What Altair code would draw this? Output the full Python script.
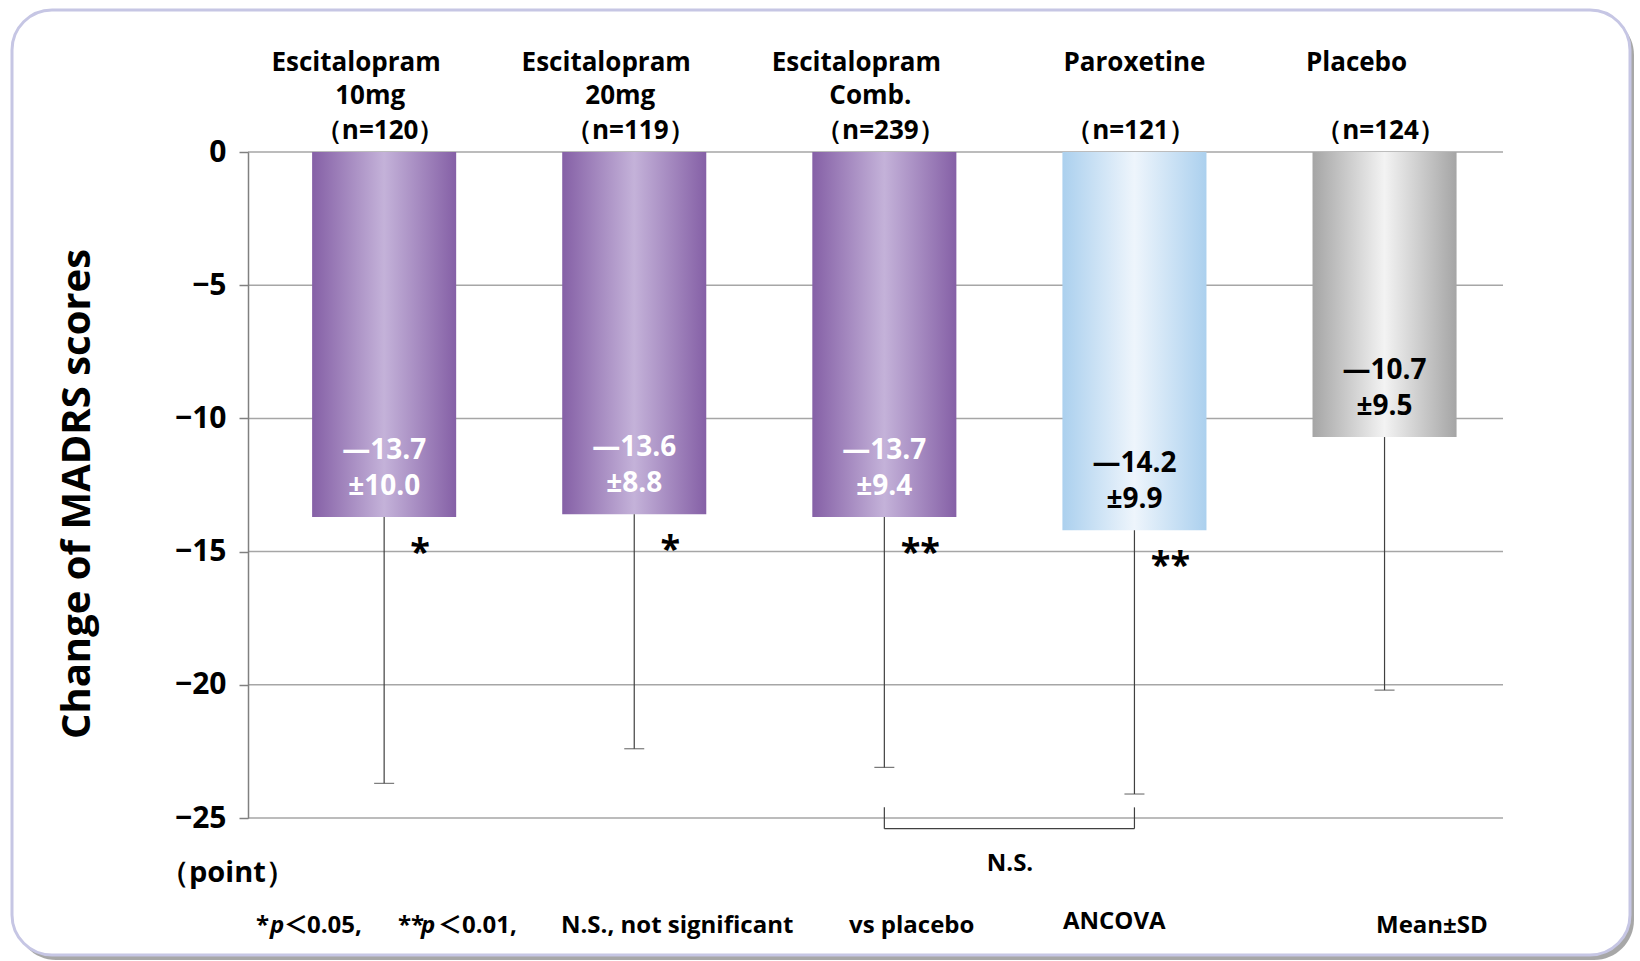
import altair as alt
import pandas as pd

# ---------------- data ----------------
categories = ["Escitalopram 10mg", "Escitalopram 20mg", "Escitalopram Comb.", "Paroxetine", "Placebo"]
label_name = ["Escitalopram", "Escitalopram", "Escitalopram", "Paroxetine", "Placebo"]
label_dose = ["10mg", "20mg", "Comb.", "", ""]
label_n = ["（n=120）", "（n=119）", "（n=239）", "（n=121）", "（n=124）"]
means = [-13.7, -13.6, -13.7, -14.2, -10.7]
sds = [10.0, 8.8, 9.4, 9.9, 9.5]
groups = ["esc", "esc", "esc", "par", "pla"]
stars = ["*", "*", "**", "**", ""]
y_ticks = [0, -5, -10, -15, -20, -25]
bracket_pair = ["Escitalopram Comb.", "Paroxetine"]
bracket_y = [-24.6, -25.4]
y_title = "Change of MADRS scores"
unit_text = "（point）"
ns_text = "N.S."
footer_texts = ["*", "p", "＜", "0.05,", "**", "p", "＜", "0.01,", "N.S., not significant", "vs placebo", "ANCOVA", "Mean±SD"]
footer_style = ["n", "i", "cjk", "n", "n", "i", "cjk", "n", "n", "n", "n", "n"]

# ---------------- layout constants ----------------
FONT = "Open Sans"
CJK = "Noto Sans CJK JP"
PAD_L, PAD_T, W, H = 248, 152, 1255, 666
PAD_R, PAD_B = 1640 - PAD_L - W, 961 - PAD_T - H
footer_x = [256, 270, 296, 307, 398, 421, 450, 462, 561, 849, 1063, 1376]
footer_y = [926, 926, 926, 926, 926, 926, 926, 926, 926, 926, 922, 926]

df = pd.DataFrame({
    "cat": categories,
    "mean": means,
    "low": [m - s for m, s in zip(means, sds)],
    "grp": groups,
    "star": stars,
    "name": label_name,
    "dose": label_dose,
    "n": label_n,
    "val": [[f"—{abs(m):.1f}", f"±{s:.1f}"] for m, s in zip(means, sds)],
})

xscale = alt.Scale(domain=categories, paddingInner=0.424, paddingOuter=0.221, align=0.58)
yscale = alt.Scale(domain=[-25, 0], nice=False)
X = alt.X("cat:N", scale=xscale, axis=None, sort=categories)

axis = alt.Axis(values=y_ticks, labelFont=FONT, labelFontSize=30, labelFontWeight="bold",
                labelColor="black", tickSize=9, tickColor="#808080", tickWidth=1.5,
                domainColor="#808080", domainWidth=1.5, grid=False, zindex=1,
                labelPadding=13, title=None)


def Y(field):
    return alt.Y(field, scale=yscale, axis=axis)


def grad(edge, center):
    return alt.Gradient(
        gradient="linear",
        stops=[alt.GradientStop(color=edge, offset=0),
               alt.GradientStop(color=center, offset=0.5),
               alt.GradientStop(color=edge, offset=1)],
        x1=0, x2=1, y1=0, y2=0,
    )


one = pd.DataFrame({"a": [0]})

shadow = alt.Chart(one).mark_rect(cornerRadius=40, fill="#8a8a8a", opacity=0.75).encode(
    x=alt.value(12 - PAD_L + 4), x2=alt.value(1630 - PAD_L + 4),
    y=alt.value(10 - PAD_T + 5), y2=alt.value(955 - PAD_T + 5))
panel = alt.Chart(one).mark_rect(cornerRadius=40, fill="white", stroke="#c6c6e4", strokeWidth=3).encode(
    x=alt.value(12 - PAD_L), x2=alt.value(1630 - PAD_L),
    y=alt.value(10 - PAD_T), y2=alt.value(955 - PAD_T))

grid = alt.Chart(pd.DataFrame({"g": y_ticks})).mark_rule(color="#a6a6a6", strokeWidth=1.5).encode(
    x=alt.value(0), x2=alt.value(W), y=Y("g:Q"))

base = alt.Chart(df)
bars_esc = base.transform_filter("datum.grp == 'esc'").mark_bar(color=grad("#8560a6", "#c4b2d9")).encode(
    x=X, y=Y("mean:Q"))
bars_par = base.transform_filter("datum.grp == 'par'").mark_bar(color=grad("#abd0ee", "#eef5fc")).encode(
    x=X, y=Y("mean:Q"))
bars_pla = base.transform_filter("datum.grp == 'pla'").mark_bar(color=grad("#a5a5a5", "#f3f3f3")).encode(
    x=X, y=Y("mean:Q"))

err = base.mark_rule(color="#404040", strokeWidth=1.2).encode(
    x=X, y=Y("mean:Q"), y2="low:Q")
cap = base.mark_tick(color="#404040", size=20, thickness=1.2, orient="horizontal").encode(
    x=X, y=Y("low:Q"))

val_kw = dict(font=FONT, fontSize=28, fontWeight="bold", align="center", baseline="middle",
              lineHeight=36, dy=-66)
val_white = base.transform_filter("datum.grp == 'esc'").mark_text(
    color="white", **val_kw).encode(x=X, y=Y("mean:Q"), text="val")
val_black = base.transform_filter("datum.grp != 'esc'").mark_text(
    color="black", **val_kw).encode(x=X, y=Y("mean:Q"), text="val")

star_t = base.mark_text(font=FONT, fontSize=36, fontWeight="bold", color="black",
                        align="center", baseline="alphabetic", dx=36, dy=47).encode(
    x=X, y=Y("mean:Q"), text="star:N")

lab_kw = dict(font=FONT, fontSize=26, fontWeight="bold", color="black", align="center",
              baseline="alphabetic")
name_a = base.transform_filter("datum.grp != 'par'").mark_text(dx=-28, **lab_kw).encode(
    x=X, y=alt.value(71 - PAD_T), text="name:N")
name_b = base.transform_filter("datum.grp == 'par'").mark_text(dx=0, **lab_kw).encode(
    x=X, y=alt.value(71 - PAD_T), text="name:N")
dose_t = base.mark_text(dx=-14, **lab_kw).encode(
    x=X, y=alt.value(104 - PAD_T), text="dose:N")
n_t = base.mark_text(dx=-4, **lab_kw).encode(
    x=X, y=alt.value(139 - PAD_T), text="n:N")

bdf = pd.DataFrame({"cat": bracket_pair, "top": [bracket_y[0]] * 2, "bot": [bracket_y[1]] * 2})
br_v = alt.Chart(bdf).mark_rule(color="#404040", strokeWidth=1.2).encode(
    x=X, y=Y("top:Q"), y2="bot:Q")
bdf2 = pd.DataFrame({"c1": [bracket_pair[0]], "c2": [bracket_pair[1]], "y": [bracket_y[1]]})
br_h = alt.Chart(bdf2).mark_rule(color="#404040", strokeWidth=1.2).encode(
    x=alt.X("c1:N", scale=xscale, axis=None), x2="c2:N", y=Y("y:Q"))


def free_text(t, x, y, size, align="left", style="n", angle=None):
    kw = dict(font=FONT, fontSize=size, fontWeight="bold", color="black", align=align,
              baseline="middle")
    if style == "i":
        kw["fontStyle"] = "italic"
    if style == "cjk":
        kw["font"] = CJK
        kw["align"] = "center"
    if angle is not None:
        kw["angle"] = angle
    return alt.Chart(pd.DataFrame({"t": [t]})).mark_text(**kw).encode(
        x=alt.value(x - PAD_L), y=alt.value(y - PAD_T), text="t:N")


ns = free_text(ns_text, 1010, 864, 24, align="center")
ytitle = free_text(y_title, 78, 494, 40, align="center", angle=270)
unit = free_text(unit_text, 160, 873, 29)
footers = [free_text(t, x, y, 24, style=s)
           for t, x, y, s in zip(footer_texts, footer_x, footer_y, footer_style)]

chart = alt.layer(
    shadow, panel, grid, bars_esc, bars_par, bars_pla, err, cap,
    val_white, val_black, star_t, name_a, name_b, dose_t, n_t, br_v, br_h,
    ns, ytitle, unit, *footers,
).properties(
    width=W, height=H,
    autosize=alt.AutoSizeParams(type="none"),
    padding={"left": PAD_L, "top": PAD_T, "right": PAD_R, "bottom": PAD_B},
    background="white",
).configure_view(stroke=None)

chart.save("out.html", embed_options={"renderer": "svg", "actions": False})
